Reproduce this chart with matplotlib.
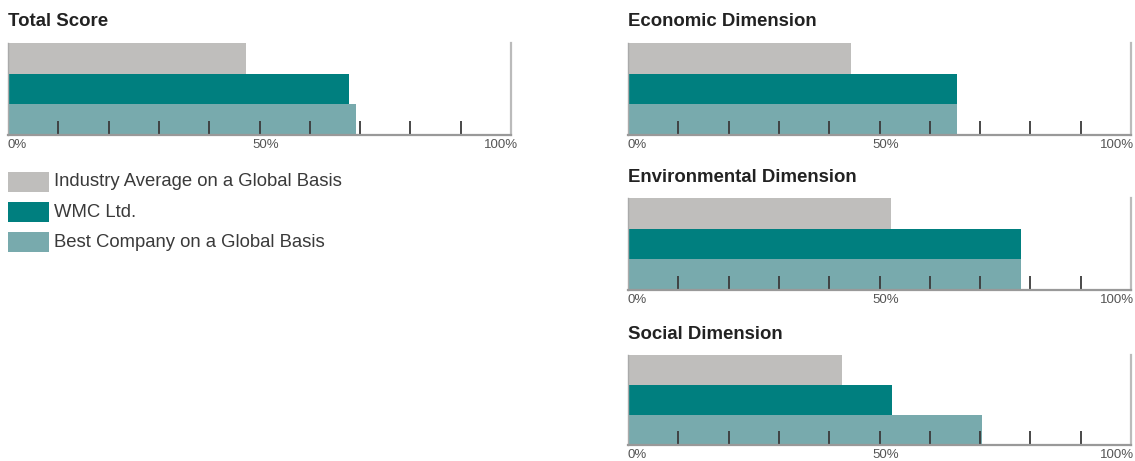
import matplotlib.pyplot as plt
from matplotlib.patches import Rectangle

W, H = 1135, 461

series = ['Industry Average on a Global Basis', 'WMC Ltd.', 'Best Company on a Global Basis']
colors = ['#bfbebc', '#007f7f', '#78aaad']

panels = ['Total Score', 'Economic Dimension', 'Environmental Dimension', 'Social Dimension']
industry_avg = [47.3, 44.3, 52.3, 42.5]
wmc = [67.7, 65.4, 78.1, 52.5]
best_company = [69.1, 65.4, 78.1, 70.4]

# pixel boxes: left, top, width, height
boxes = [(8, 43, 503, 92), (628, 43, 503, 92), (628, 198, 503, 92), (628, 355, 503, 90)]

plt.rcParams['font.family'] = ['Liberation Sans', 'DejaVu Sans']
fig = plt.figure(figsize=(W / 100, H / 100), dpi=100)


def fx(px):
    return px / W


def fy(py):
    return 1 - py / H


for i, name in enumerate(panels):
    l, t, w, h = boxes[i]
    ax = fig.add_axes([fx(l), fy(t + h), w / W, h / H])
    vals = [industry_avg[i], wmc[i], best_company[i]]
    ax.barh([2.5, 1.5, 0.5], vals, height=1.0, color=colors, linewidth=0)
    ax.set_xlim(0, 100)
    ax.set_ylim(0, 3)
    ax.set_yticks([])
    ax.set_xticks(range(10, 91, 10))
    ax.tick_params(axis='x', direction='in', length=10, width=1.3, color='#3a3a3a', labelbottom=False)
    ax.spines['top'].set_visible(False)
    ax.spines['left'].set_color('#aaaaaa')
    ax.spines['left'].set_linewidth(1.0)
    ax.spines['right'].set_color('#bbbbbb')
    ax.spines['right'].set_linewidth(1.6)
    ax.spines['bottom'].set_color('#999999')
    ax.spines['bottom'].set_linewidth(1.6)
    # tick labels
    ly = fy(t + h + 10)
    fig.text(fx(l), ly, '0%', ha='left', va='center', fontsize=9.5, color='#555555')
    fig.text(fx(l + w * 0.5 + 6), ly, '50%', ha='center', va='center', fontsize=9.5, color='#555555')
    fig.text(fx(min(l + w + 7, W - 1)), ly, '100%', ha='right', va='center', fontsize=9.5, color='#555555')
    # title
    fig.text(fx(l), fy(t - 21), name, ha='left', va='center', fontsize=13.4,
             fontweight='bold', color='#222222')

# legend
for k, label in enumerate(series):
    top = 172 + 30 * k
    fig.patches.append(Rectangle((fx(8), fy(top + 20)), 41 / W, 20 / H,
                                 transform=fig.transFigure, facecolor=colors[k],
                                 edgecolor='none'))
    fig.text(fx(54), fy(top + 10), label, ha='left', va='center', fontsize=13.3, color='#3a3a3a')

fig.savefig('out.png', dpi=100)
